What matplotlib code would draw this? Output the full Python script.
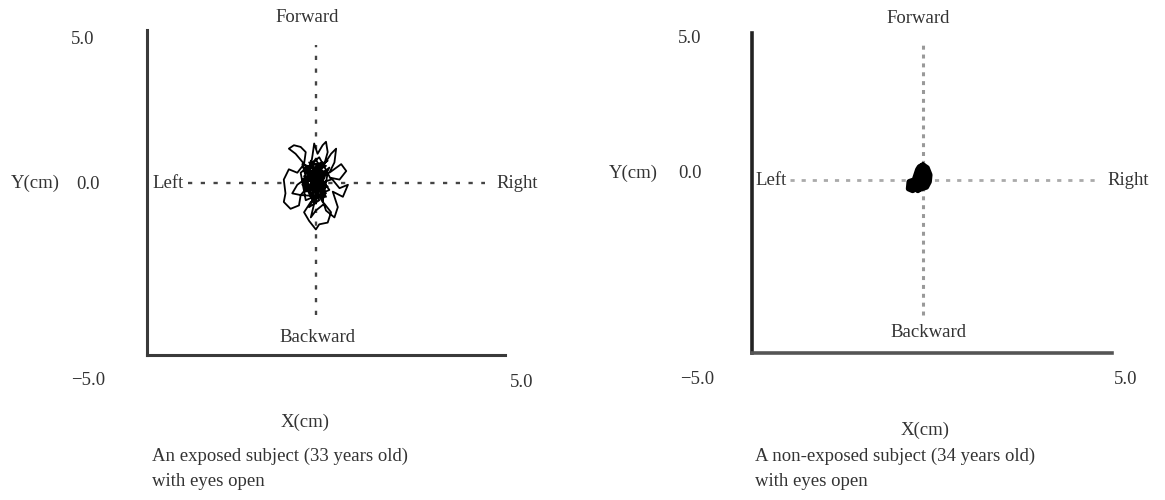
import matplotlib.pyplot as plt
import numpy as np

plt.rcParams['font.family'] = ['Liberation Serif', 'DejaVu Serif']

# sway path of the exposed subject (cm)
sway_a_x = [0.0, -0.3, -0.6, -0.8, -0.65, -0.45, -0.3, -0.35, -0.55, -0.8, -0.95, -0.9, -0.95, -0.75,
            -0.5, -0.45, -0.7, -0.55, -0.2,
            -0.1, -0.05, 0.05, 0.2, 0.3, 0.35, 0.25, 0.45, 0.6, 0.55, 0.4, 0.75, 0.9, 0.7, 0.45,
            0.7, 0.95, 0.8, 0.5, 0.65, 0.55, 0.3, 0.15,
            -0.15, -0.35, -0.2, 0.0, 0.1, 0.35, 0.45, 0.25, 0.0, -0.15, -0.05,
            -0.4, 0.3, -0.2, 0.4, -0.3, -0.45, 0.1, 0.45, -0.35, 0.05, 0.35, -0.25, 0.2, 0.35,
            -0.4, -0.15, 0.25, 0.0, -0.3, 0.15, -0.1, 0.3, -0.45, -0.1, 0.4, -0.2, 0.1, -0.35,
            0.2, 0.1, -0.25, 0.3, -0.05, -0.2, 0.15, -0.3, 0.2, 0.0,
            -0.35, 0.25, -0.1, 0.35, -0.2, 0.05, -0.4, 0.2, -0.05, 0.3, -0.3, 0.1, -0.15, 0.25,
            -0.25, 0.15, 0.0, -0.35, 0.3, -0.1, 0.05]
sway_a_y = [0.0, 0.5, 0.85, 1.0, 1.1, 1.05, 0.9, 0.55, 0.3, 0.4, 0.1, -0.3, -0.55, -0.75,
            -0.65, -0.35, -0.3, -0.05, 0.2,
            0.8, 1.15, 0.85, 1.1, 1.2, 0.9, 0.55, 0.85, 1.0, 0.6, 0.3, 0.55, 0.35, 0.1, 0.15,
            -0.15, -0.05, -0.4, -0.25, -0.7, -1.0, -0.8, -0.35,
            -0.55, -0.85, -1.1, -1.35, -1.2, -1.15, -0.85, -0.6, -0.8, -1.0, -0.6,
            0.1, 0.5, 0.6, -0.2, -0.5, 0.3, 0.75, 0.1, -0.15, 0.5, 0.65, 0.2, -0.55, 0.3,
            0.55, -0.35, 0.15, 0.7, 0.35, -0.2, 0.4, -0.4, -0.35, 0.05, 0.45, -0.7, -0.5, 0.45,
            0.6, -0.05, -0.2, 0.05, -0.45, 0.5, 0.35, 0.0, -0.3, 0.2,
            0.4, 0.25, -0.3, -0.1, 0.1, 0.55, -0.05, -0.4, 0.35, 0.3, -0.25, 0.0, 0.65, -0.2,
            0.45, 0.4, -0.6, 0.2, -0.3, 0.1, 0.0]

# sway path of the non-exposed subject (cm)
sway_b_x = [0.0, 0.12, 0.2, 0.18, 0.1, -0.05, -0.15, -0.3, -0.42, -0.4, -0.25, -0.2, -0.15, -0.1,
            0.0, 0.1, -0.1, 0.05, -0.05, -0.3, -0.15, 0.1, 0.12, -0.05]
sway_b_y = [0.43, 0.35, 0.15, -0.05, -0.2, -0.25, -0.2, -0.3, -0.25, -0.05, 0.0, 0.15, 0.3, 0.38,
            0.43, 0.1, -0.1, -0.15, 0.2, -0.15, -0.3, -0.1, 0.25, 0.3]

captions = ["An exposed subject (33 years old)\nwith eyes open",
            "A non-exposed subject (34 years old)\nwith eyes open"]

fig = plt.figure(figsize=(11.65, 5), dpi=100)
ax1 = fig.add_axes([147/1165, 145/500, 358/1165, 325/500])
ax2 = fig.add_axes([752/1165, 147/500, 360/1165, 320/500])

tc = '#333333'
fs = 13.5

def setup(ax, xlim, ylim, axcol_v, axcol_h, lw_ax):
    ax.set_xlim(*xlim)
    ax.set_ylim(*ylim)
    ax.set_xticks([])
    ax.set_yticks([])
    for s in ['top', 'right']:
        ax.spines[s].set_visible(False)
    ax.spines['left'].set_color(axcol_v)
    ax.spines['bottom'].set_color(axcol_h)
    ax.spines['left'].set_linewidth(lw_ax)
    ax.spines['bottom'].set_linewidth(lw_ax)
    ax.patch.set_alpha(0)

# left panel
setup(ax1, (-5, 5.6), (-5, 4.45), '#3a3a3a', '#3a3a3a', 2.2)
ax1.plot([0, 0], [-3.84, 4.0], color='#444444', lw=1.7, linestyle=(0, (1.8, 3.6)))
ax1.plot([-3.8, 5.0], [0, 0], color='#444444', lw=1.7, linestyle=(0, (1.8, 3.6)))
ax1.plot(sway_a_x, sway_a_y, color='black', lw=1.3, solid_joinstyle='round')

t1 = dict(color=tc, fontsize=fs, clip_on=False)
ax1.text(-0.27, 4.8, 'Forward', ha='center', va='center', **t1)
ax1.text(0.06, -4.5, 'Backward', ha='center', va='center', **t1)
ax1.text(-4.85, 0, 'Left', ha='left', va='center', **t1)
ax1.text(5.35, 0, 'Right', ha='left', va='center', **t1)
ax1.text(-6.92, 4.16, '5.0', ha='center', va='center', **t1)
ax1.text(-6.75, -0.05, '0.0', ha='center', va='center', **t1)
ax1.text(-8.3, 0.0, 'Y(cm)', ha='center', va='center', **t1)
ax1.text(-6.75, -5.73, '−5.0', ha='center', va='center', **t1)
ax1.text(6.1, -5.8, '5.0', ha='center', va='center', **t1)
ax1.text(-0.33, -6.95, 'X(cm)', ha='center', va='center', **t1)
ax1.text(-4.85, -7.7, captions[0], ha='left', va='top', linespacing=1.6, **t1)

# right panel
setup(ax2, (-5, 5.53), (-5, 4.25), '#222222', '#555555', 2.6)
ax2.plot([0, 0], [-3.9, 3.9], color='#999999', lw=2.2, linestyle=(0, (1.3, 1.6)))
ax2.plot([-3.9, 5.17], [0, 0], color='#aaaaaa', lw=2.0, linestyle=(0, (1.5, 2.5)))
ax2.plot(sway_b_x, sway_b_y, color='black', lw=4, solid_joinstyle='round',
         solid_capstyle='round')

ax2.text(-0.15, 4.68, 'Forward', ha='center', va='center', **t1)
ax2.text(0.15, -4.42, 'Backward', ha='center', va='center', **t1)
ax2.text(-4.9, 0, 'Left', ha='left', va='center', **t1)
ax2.text(5.4, 0, 'Right', ha='left', va='center', **t1)
ax2.text(-6.81, 4.1, '5.0', ha='center', va='center', **t1)
ax2.text(-6.81, 0.2, '0.0', ha='center', va='center', **t1)
ax2.text(-8.48, 0.2, 'Y(cm)', ha='center', va='center', **t1)
ax2.text(-6.6, -5.78, '−5.0', ha='center', va='center', **t1)
ax2.text(5.94, -5.78, '5.0', ha='center', va='center', **t1)
ax2.text(0.06, -7.23, 'X(cm)', ha='center', va='center', **t1)
ax2.text(-4.9, -7.75, captions[1], ha='left', va='top', linespacing=1.6, **t1)

fig.savefig('out.png', dpi=100)
